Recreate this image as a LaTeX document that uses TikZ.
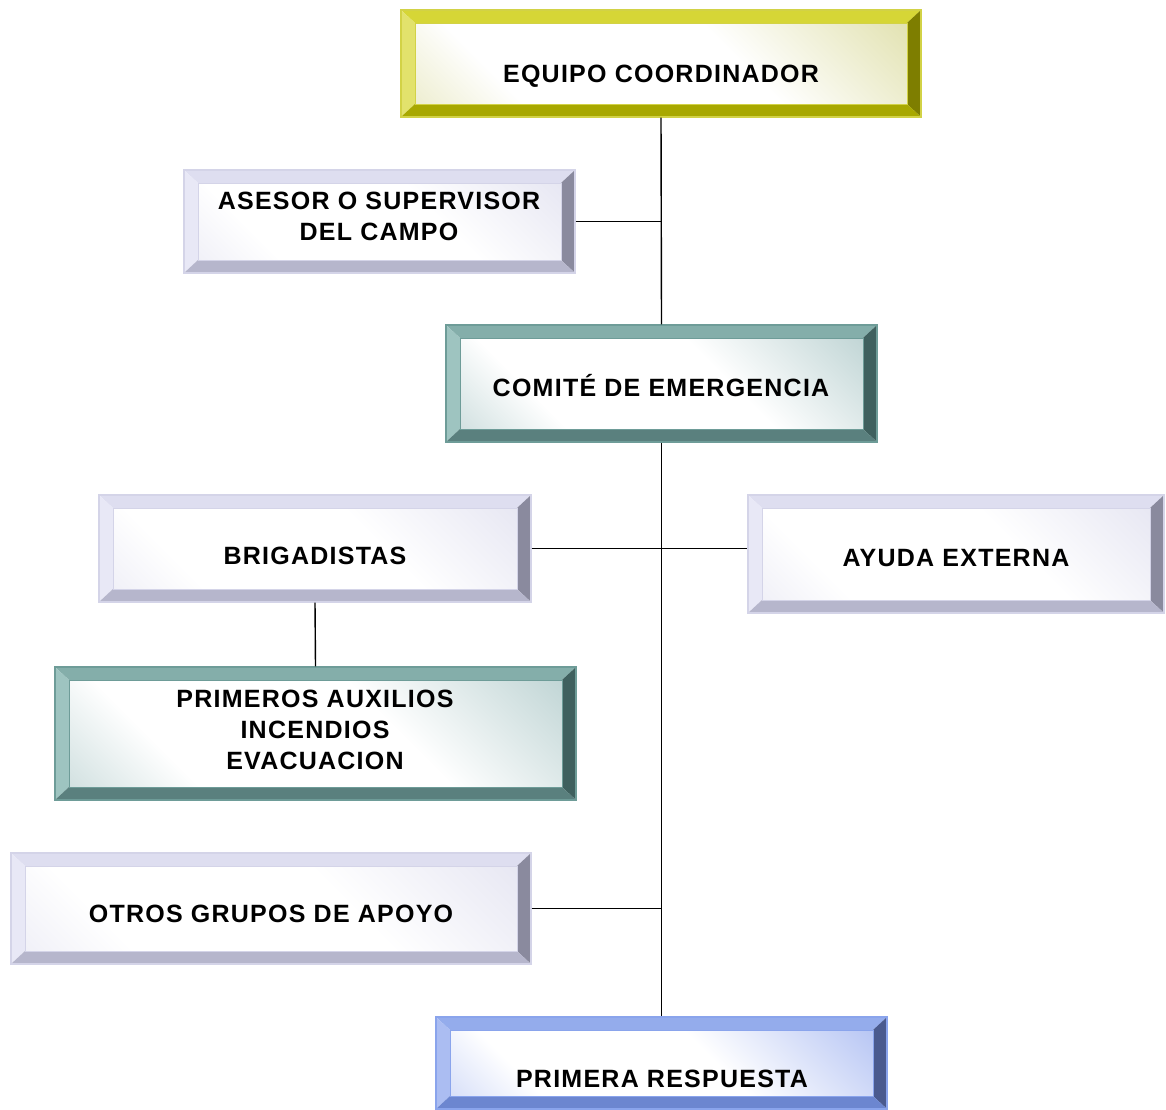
\documentclass[tikz,border=0pt]{standalone}
\usepackage{fontspec}
\newfontfamily\boxfont{Liberation Sans}[LetterSpace=5]
\usetikzlibrary{calc}

% bevel colour schemes: edge, top, left, right, bottom, face tint
\definecolor{yelEdge}{HTML}{D2D246}
\definecolor{yelTop}{HTML}{D6D636}
\definecolor{yelLeft}{HTML}{E2E26C}
\definecolor{yelRight}{HTML}{7E7E00}
\definecolor{yelBot}{HTML}{A8A800}
\definecolor{yelFace}{HTML}{D2D286}

\definecolor{lavEdge}{HTML}{D4D4E8}
\definecolor{lavTop}{HTML}{DEDEF0}
\definecolor{lavLeft}{HTML}{E8E8F6}
\definecolor{lavRight}{HTML}{8A8A9E}
\definecolor{lavBot}{HTML}{B6B6CC}
\definecolor{lavFace}{HTML}{DADAEC}

\definecolor{tealEdge}{HTML}{6E9C98}
\definecolor{tealTop}{HTML}{84AEAA}
\definecolor{tealLeft}{HTML}{9EC4C0}
\definecolor{tealRight}{HTML}{3F605E}
\definecolor{tealBot}{HTML}{5A807E}
\definecolor{tealFace}{HTML}{9EBEBE}

\definecolor{bluEdge}{HTML}{8AA4EC}
\definecolor{bluTop}{HTML}{94ACEC}
\definecolor{bluLeft}{HTML}{ABBDF2}
\definecolor{bluRight}{HTML}{4A5A8E}
\definecolor{bluBot}{HTML}{6C86D0}
\definecolor{bluFace}{HTML}{92A8EE}

% face shadings along the diagonal (lower left to upper right):
% light tint in the lower left corner, white middle, stronger tint upper right
\pgfdeclareverticalshading{yelShade}{100bp}{color(0bp)=(yelFace!80!white); color(28bp)=(white); color(60bp)=(white); color(100bp)=(yelFace)}
\pgfdeclareverticalshading{lavShade}{100bp}{color(0bp)=(lavFace!80!white); color(28bp)=(white); color(60bp)=(white); color(100bp)=(lavFace)}
\pgfdeclareverticalshading{tealShade}{100bp}{color(0bp)=(tealFace!90!white); color(30bp)=(white); color(60bp)=(white); color(100bp)=(tealFace)}
\pgfdeclareverticalshading{bluShade}{100bp}{color(0bp)=(bluFace!75!white); color(28bp)=(white); color(58bp)=(white); color(100bp)=(bluFace)}

% draws the four bevels and the shaded face inside a box node
\newcommand\bevelparts{%
  \path (path picture bounding box.north west) coordinate (oA);
  \path (path picture bounding box.north east) coordinate (oB);
  \path (path picture bounding box.south east) coordinate (oC);
  \path (path picture bounding box.south west) coordinate (oD);
  \path ([shift={(14pt,-13pt)}]oA) coordinate (iA);
  \path ([shift={(-14pt,-13pt)}]oB) coordinate (iB);
  \path ([shift={(-14pt,13pt)}]oC) coordinate (iC);
  \path ([shift={(14pt,13pt)}]oD) coordinate (iD);
  \fill[bev top] (oA) -- (oB) -- (iB) -- (iA) -- cycle;
  \fill[bev left] (oA) -- (iA) -- (iD) -- (oD) -- cycle;
  \fill[bev right] (oB) -- (oC) -- (iC) -- (iB) -- cycle;
  \fill[bev bot] (oD) -- (iD) -- (iC) -- (oC) -- cycle;
  \path[bev face] (iA) rectangle (iC);
}

\tikzset{
  bev top/.style={}, bev left/.style={}, bev right/.style={},
  bev bot/.style={}, bev face/.style={},
  bevelbox/.style={
    rectangle, draw=#1Edge, line width=1.2pt, inner sep=0pt,
    bev top/.style={fill=#1Top},
    bev left/.style={fill=#1Left},
    bev right/.style={fill=#1Right},
    bev bot/.style={fill=#1Bot},
    bev face/.style={draw=#1Edge, line width=0.6pt,
      shade, shading=#1Shade, shading angle=-45},
    path picture={\bevelparts}},
  boxtext/.style={font=\boxfont\bfseries\fontsize{25}{31}\selectfont,
    inner sep=0pt, align=center},
  conn/.style={draw=black, line width=1.4pt},
}

\begin{document}
\begin{tikzpicture}[x=1pt, y=-1pt]
  \useasboundingbox (0,0) rectangle (1166,1109);

  % boxes
  \node[bevelbox=yel,  minimum width=520pt, minimum height=107pt] (eq)  at (661,63.5)   {};
  \node[bevelbox=lav,  minimum width=391pt, minimum height=103pt] (ase) at (379.5,221.5) {};
  \node[bevelbox=teal, minimum width=431pt, minimum height=117pt] (com) at (661.5,383.5) {};
  \node[bevelbox=lav,  minimum width=432pt, minimum height=107pt] (bri) at (315,548.5)   {};
  \node[bevelbox=lav,  minimum width=416pt, minimum height=118pt] (ayu) at (956,554)     {};
  \node[bevelbox=teal, minimum width=521pt, minimum height=133pt] (pri) at (315.5,733.5) {};
  \node[bevelbox=lav,  minimum width=520pt, minimum height=111pt] (otr) at (271,908.5)   {};
  \node[bevelbox=blu,  minimum width=451pt, minimum height=92pt]  (pre) at (661.5,1063)  {};

  % labels
  \node[boxtext, anchor=base] (teq)  at (661,82)   {EQUIPO COORDINADOR};
  \node[boxtext] (tase) at (379,216) {ASESOR O SUPERVISOR\\DEL CAMPO};
  \node[boxtext, anchor=base] (tcom) at (661,396)  {COMITÉ DE EMERGENCIA};
  \node[boxtext, anchor=base] (tbri) at (315,564)  {BRIGADISTAS};
  \node[boxtext, anchor=base] (tayu) at (956,566)  {AYUDA EXTERNA};
  \node[boxtext] (tpri) at (315,730) {PRIMEROS AUXILIOS\\INCENDIOS\\EVACUACION};
  \node[boxtext, anchor=base] (totr) at (271,922)  {OTROS GRUPOS DE APOYO};
  \node[boxtext, anchor=base] (tpre) at (662,1087) {PRIMERA RESPUESTA};

  % connectors
  \draw[conn] (eq.south) -- (com.north);
  \draw[conn] (ase.east) -- (ase.east -| eq.south);
  \draw[conn] (com.south) -- (pre.north);
  \draw[conn] (bri.east) -- (bri.east -| ayu.west);
  \draw[conn] (bri.south) -- (pri.north);
  \draw[conn] (otr.east) -- (otr.east -| com.south);
\end{tikzpicture}
\end{document}
